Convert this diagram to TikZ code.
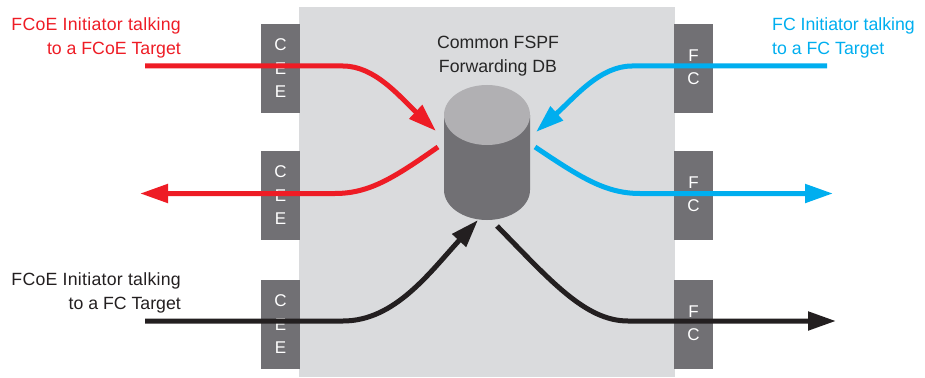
\documentclass[tikz,border=0pt]{standalone}
\usepackage{fontspec}
\setmainfont{Liberation Sans}
\usetikzlibrary{arrows.meta}
\definecolor{panelgray}{HTML}{DADBDD}
\definecolor{boxgray}{HTML}{717074}
\definecolor{dbtop}{HTML}{B1B0B3}
\definecolor{fcoered}{HTML}{EE1C25}
\definecolor{fcblue}{HTML}{00AEEF}
\definecolor{fcblack}{HTML}{231F20}
\newcommand{\wideline}[1]{{\addfontfeature{LetterSpace=1.5}#1}}
\newcommand{\upletter}[1]{\raisebox{3pt}{#1}}
\tikzset{
  portbox/.style={fill=boxgray,text=white,minimum width=39pt,minimum height=89pt,inner sep=0pt,align=center,font=\fontsize{17}{23.5}\selectfont},
  caption/.style={inner sep=0pt,font=\fontsize{17.7}{24}\selectfont},
  flow/.style={line width=5pt},
  flowtip/.style={flow,-{Triangle[length=28pt,width=18pt]}}
}
\begin{document}
\begin{tikzpicture}[x=1pt,y=-1pt]
              \useasboundingbox (0,0) rectangle (925,377);
              \fill[panelgray](299,7)rectangle(675,377);
              \node[portbox](cee1)at(280.5,68.5){C\\E\\E};
              \node[portbox](cee2)at(280.5,195.5){C\\E\\E};
              \node[portbox](cee3)at(280.5,324.5){C\\E\\E};
              \node[portbox](fc1)at(693.5,68.5){\upletter{F}\\\upletter{C}};
              \node[portbox](fc2)at(693.5,195.5){\upletter{F}\\\upletter{C}};
              \node[portbox](fc3)at(693.5,324.5){\upletter{F}\\\upletter{C}};
              \fill[boxgray](444,115)--(444,190)arc[start angle=180,end angle=360,x radius=43,y radius=-30]--(530,115)--cycle;
              \fill[dbtop](487,115)ellipse[x radius=43,y radius=30];
              \node[caption,align=center,text=black!85](dblabel)at(498,56){Common FSPF\\Forwarding DB};
              \node[caption,align=right,anchor=north east,text=fcoered](redlabel)at(181,17){\wideline{FCoE Initiator talking}\\to a FCoE Target};
              \node[caption,align=left,anchor=north west,text=fcblue](bluelabel)at(772,17){FC Initiator talking\\to a FC Target};
              \node[caption,align=right,anchor=north east,text=fcblack](blacklabel)at(181,272){\wideline{FCoE Initiator talking}\\to a FC Target};
              \coordinate(redin)at(145,66);
              \coordinate(redhit)at(436,131);
              \coordinate(redleave)at(438,147);
              \coordinate(redout)at(140,193.5);
              \coordinate(bluein)at(827,66);
              \coordinate(bluehit)at(536,132);
              \coordinate(blueleave)at(535,147);
              \coordinate(blueout)at(833,193.5);
              \coordinate(blackin)at(145,321);
              \coordinate(blackhit)at(478,220);
              \coordinate(blackleave)at(497,226);
              \coordinate(blackout)at(836,321);
              \draw[flowtip,fcoered](redin)--(343,66)..controls(375,66)and(400,97)..(redhit);
              \draw[flowtip,fcoered](redleave)..controls(395,177)and(370,193.5)..(335,193.5)--(redout);
              \draw[flowtip,fcblue](bluein)--(632,66)..controls(600,66)and(575,97)..(bluehit);
              \draw[flowtip,fcblue](blueleave)..controls(580,177)and(605,193.5)..(640,193.5)--(blueout);
              \draw[flowtip,fcblack](blackin)--(343,321)..controls(395,321)and(430,272)..(blackhit);
              \draw[flowtip,fcblack](blackleave)..controls(550,280)and(585,321)..(628,321)--(blackout);
            \end{tikzpicture}
\end{document}
